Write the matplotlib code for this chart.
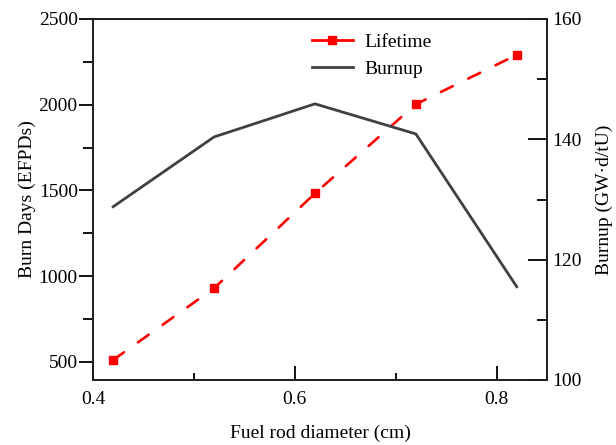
import matplotlib

matplotlib.use("Agg")
import matplotlib.pyplot as plt
from matplotlib.lines import Line2D
from matplotlib.ticker import MultipleLocator

# data
diam_life = [0.42, 0.52, 0.62, 0.72, 0.82]
lifetime = [512, 930, 1483, 2003, 2291]
diam_burn = [0.42, 0.52, 0.562, 0.62, 0.684, 0.72, 0.82]
burnup = [128.8, 140.4, 142.7, 145.9, 142.7, 140.9, 115.5]

RED = "#FF0000"
GREY = "#404040"

plt.rcParams["font.family"] = ["Liberation Serif", "DejaVu Serif"]
plt.rcParams["font.size"] = 11

fig = plt.figure(figsize=(6.16, 4.45), dpi=100)
ax = fig.add_axes([93 / 616, 1 - 380 / 445, (547 - 93) / 616, (380 - 19) / 445])
ax2 = ax.twinx()

ax.plot(diam_life, lifetime, color=RED, lw=1.9, dashes=(5, 6.5),
        dash_capstyle="round", marker="s", ms=6, zorder=3)
ax2.plot(diam_burn, burnup, color=GREY, lw=2)

ax.set_xlim(0.4, 0.85)
ax.set_ylim(395, 2500)
ax2.set_ylim(100, 160)

ax.xaxis.set_major_locator(MultipleLocator(0.2))
ax.xaxis.set_minor_locator(MultipleLocator(0.1))
ax.yaxis.set_major_locator(MultipleLocator(500))
ax.yaxis.set_minor_locator(MultipleLocator(250))
ax2.yaxis.set_major_locator(MultipleLocator(20))
ax2.yaxis.set_minor_locator(MultipleLocator(10))

ax.tick_params(axis="x", which="major", direction="in", length=10, width=1.3, labelsize=14, pad=8)
ax.tick_params(axis="x", which="minor", direction="in", length=5, width=1.3)
ax.tick_params(axis="y", which="major", direction="out", length=10, width=1.3, labelsize=14, pad=1)
ax.tick_params(axis="y", which="minor", direction="out", length=7, width=1.3)
ax2.tick_params(axis="y", which="major", direction="in", length=14, width=1.3, labelsize=14, pad=4)
ax2.tick_params(axis="y", which="minor", direction="in", length=7, width=1.3)

for a in (ax, ax2):
    for s in a.spines.values():
        s.set_linewidth(1.3)
        s.set_color("#202020")

ax.set_xlabel("Fuel rod diameter (cm)", fontsize=14, labelpad=12)
ax.set_ylabel("Burn Days (EFPDs)", fontsize=14, labelpad=2)
ax2.set_ylabel("Burnup (GW\u00b7d/tU)", fontsize=14, labelpad=10)

handles = [
    Line2D([], [], color=RED, lw=2, marker="s", ms=6, label="Lifetime"),
    Line2D([], [], color=GREY, lw=2, label="Burnup"),
]
ax.legend(handles=handles, loc="upper left", bbox_to_anchor=(0.465, 0.981), borderaxespad=0,
          frameon=False, fontsize=14, handlelength=2.1, handletextpad=0.6, labelspacing=0.45)

fig.savefig("out.png", dpi=100)
